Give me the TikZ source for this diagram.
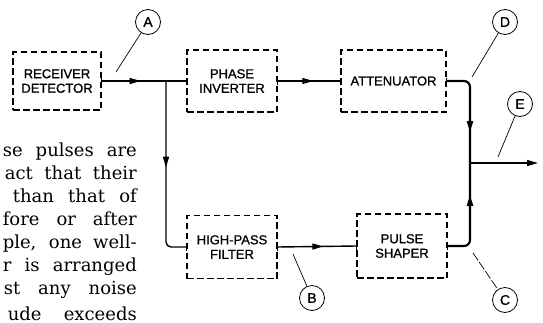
\documentclass[tikz,border=0pt]{standalone}
\usepackage{fontspec}
\setmainfont{DejaVu Serif}
\newfontfamily\boxfont[FakeBold=0.9]{Liberation Sans}
\usetikzlibrary{arrows.meta,decorations.markings}
\tikzset{
  blk/.style={draw, dash pattern=on 6.5pt off 3.5pt, line width=1.3pt, inner sep=0pt,
    align=center, font=\boxfont\fontsize{13}{14.5}\selectfont},
  lbl/.style={draw, circle, line width=0.8pt, minimum size=25pt, inner sep=0pt,
    font=\boxfont\fontsize{14}{14}\selectfont},
  flow/.style={line width=1.4pt},
  heavy/.style={line width=2.1pt},
  tickmark/.style={line width=1.2pt},
  leader/.style={line width=0.7pt},
  midarrow/.style={postaction={decorate}, decoration={markings,
    mark=at position #1 with {\arrow{Triangle[length=11pt,width=6pt]}}}},
  para/.style={anchor=base east, inner sep=0pt, font=\fontsize{18}{22}\selectfont}
}
\begin{document}
\begin{tikzpicture}[x=1pt,y=-1pt]
\clip (0,0) rectangle (543,322);
\fill[white] (0,0) rectangle (543,322);

% boxes
\node[blk, minimum width=88pt, minimum height=58pt] (rd) at (57,81) {RECEIVER\\DETECTOR};
\node[blk, minimum width=90pt, minimum height=62pt] (pi) at (232,81) {PHASE\\INVERTER};
\node[blk, minimum width=105pt, minimum height=62pt] (at) at (393.5,81) {ATTENUATOR};
\node[blk, minimum width=90pt, minimum height=63pt] (hp) at (232,247) {HIGH-PASS\\FILTER};
\node[blk, minimum width=90pt, minimum height=64pt] (ps) at (402,246) {PULSE\\SHAPER};

% junction / output coordinates
\coordinate (j) at (166,81);
\coordinate (out) at (470,163);
\coordinate (outend) at (538,163);

% connectors
\draw[flow, midarrow=0.46] (rd.east) -- (pi.west);
\draw[flow, rounded corners=5pt, midarrow=0.47] (j) |- (hp.west);
\draw[line width=1.2pt, midarrow=0.57] (pi.east) -- (at.west);
\draw[flow, midarrow=0.58] (hp.east) -- (ps.west);
\draw[heavy, rounded corners=6pt, midarrow=0.70] (at.east) -| (out);
\draw[heavy, rounded corners=6pt, midarrow=0.69] (ps.east) -| (out);
\draw[flow, -{Triangle[length=11pt,width=6pt]}] (out) -- (outend);

% ticks at box connections
\foreach \p in {rd.east, pi.west, pi.east, at.west, at.east, hp.west, hp.east, ps.west, ps.east}
  \draw[tickmark] ([yshift=3.5pt]\p) -- ([yshift=-3.5pt]\p);

% circled labels
\node[lbl] (A) at (148,22) {A};
\node[lbl] (D) at (505,22) {D};
\node[lbl] (E) at (520,104) {E};
\node[lbl] (B) at (312,298) {B};
\node[lbl] (C) at (505,300) {C};

\coordinate (a0) at (116,72);
\coordinate (d0) at (472,77);
\coordinate (e0) at (498,157);
\coordinate (b0) at (293,254);
\coordinate (c0) at (473,253);
\draw[leader] (a0) -- (A);
\draw[leader] (d0) -- (D);
\draw[leader] (e0) -- (E);
\draw[leader] (b0) -- (B);
\draw[leader, dash pattern=on 9pt off 2pt] (c0) -- (C);

% running text cut by the picture edge
\node[para] (t1) at (137,156) {\makebox[134pt][s]{se pulses are}};
\node[para] (t2) at (137,179) {\makebox[132pt][s]{act that their}};
\node[para] (t3) at (137,202) {\makebox[124pt][s]{than that of}};
\node[para] (t4) at (137,225) {\makebox[134pt][s]{fore or after}};
\node[para] (t5) at (137,248) {\makebox[134pt][s]{ple, one well-}};
\node[para] (t6) at (137,271) {\makebox[134pt][s]{r is arranged}};
\node[para] (t7) at (137,294) {\makebox[133pt][s]{st any noise}};
\node[para] (t8) at (137,320) {\makebox[129pt][s]{ude exceeds}};
\end{tikzpicture}
\end{document}
